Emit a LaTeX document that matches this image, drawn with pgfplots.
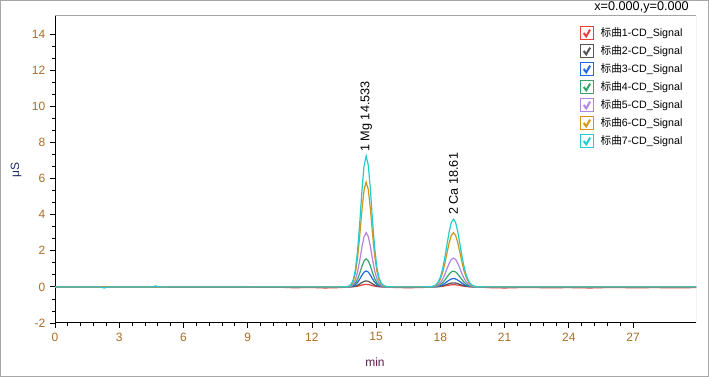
\documentclass[border=0pt]{standalone}
\usepackage{pgfplots}
\pgfplotsset{compat=1.18}
\usepackage{pgfplotstable}
\usepackage{fontspec}
\setmainfont{Liberation Sans}
\newfontfamily\cjk{Noto Sans CJK SC}
\definecolor{c1}{RGB}{232,64,64}
\definecolor{c2}{RGB}{85,85,85}
\definecolor{c3}{RGB}{35,105,225}
\definecolor{c4}{RGB}{55,165,105}
\definecolor{c5}{RGB}{180,130,225}
\definecolor{c6}{RGB}{210,150,20}
\definecolor{c7}{RGB}{35,205,205}
\definecolor{tickc}{RGB}{170,110,40}
\definecolor{ylabc}{RGB}{30,45,100}
\definecolor{xlabc}{RGB}{95,30,80}
\definecolor{framec}{RGB}{165,165,170}

\pgfplotstableread{
x      r      g      b      gr     p      o      c
0      0      0      0      0      0      0      0
2.10   0      0      0      0      0      0      0
2.30   0      0      0      0      0      0      -0.06
2.50   0      0      0      0      0      0      0
4.55   0      0      0      0      0      0      0
4.70   0      0      0      0      0      0      0.05
4.85   0      0      0      0      0      0      0
10.50  -0.02  0      0      0      0      0      0
11.20  -0.05  0      0      0      0      0      0
11.90  -0.03  0      0      0      0      0      0
12.60  -0.06  0      0      0      0      0      0
13.30  -0.04  0      0      0      0      0      0
13.633 0.000  0.000  0.001  0.002  0.005  0.009  0.011
13.733 0.001  0.002  0.005  0.009  0.018  0.035  0.044
13.833 0.003  0.007  0.018  0.031  0.060  0.116  0.145
13.933 0.008  0.018  0.049  0.087  0.168  0.325  0.406
14.033 0.019  0.045  0.119  0.209  0.405  0.783  0.979
14.133 0.039  0.092  0.245  0.431  0.834  1.612  2.016
14.233 0.068  0.161  0.429  0.755  1.461  2.825  3.531
14.333 0.102  0.240  0.639  1.125  2.178  4.211  5.264
14.433 0.129  0.305  0.812  1.431  2.769  5.353  6.692
14.533 0.140  0.330  0.880  1.550  3.000  5.800  7.250
14.633 0.130  0.307  0.818  1.442  2.790  5.394  6.743
14.733 0.104  0.244  0.651  1.147  2.220  4.292  5.365
14.833 0.070  0.165  0.440  0.775  1.500  2.900  3.625
14.933 0.041  0.097  0.260  0.457  0.885  1.711  2.139
15.033 0.021  0.050  0.132  0.233  0.450  0.870  1.088
15.133 0.010  0.023  0.062  0.109  0.210  0.406  0.508
15.233 0.004  0.010  0.026  0.047  0.090  0.174  0.218
15.333 0.002  0.004  0.011  0.019  0.036  0.070  0.087
15.433 0.001  0.002  0.004  0.008  0.015  0.029  0.036
15.533 0.000  0.001  0.002  0.003  0.006  0.012  0.015
15.80  -0.03  0      0      0      0      0      0
16.50  -0.05  0      0      0      0      0      0
17.20  -0.03  0      0      0      0      0      0
17.51  0.000  0.000  0.001  0.002  0.003  0.005  0.007
17.61  0.001  0.001  0.003  0.005  0.009  0.017  0.021
17.71  0.002  0.003  0.007  0.013  0.024  0.045  0.056
17.81  0.004  0.008  0.017  0.031  0.058  0.108  0.135
17.91  0.009  0.017  0.036  0.068  0.125  0.234  0.293
18.01  0.018  0.034  0.071  0.134  0.246  0.462  0.578
18.11  0.033  0.060  0.125  0.237  0.435  0.816  1.020
18.21  0.052  0.096  0.200  0.378  0.696  1.305  1.631
18.31  0.075  0.138  0.288  0.545  1.002  1.878  2.348
18.41  0.097  0.179  0.374  0.706  1.299  2.436  3.045
18.51  0.114  0.209  0.437  0.826  1.518  2.847  3.559
18.61  0.120  0.220  0.460  0.870  1.600  3.000  3.750
18.71  0.114  0.209  0.438  0.828  1.523  2.856  3.570
18.81  0.098  0.180  0.377  0.713  1.312  2.460  3.075
18.91  0.077  0.141  0.294  0.557  1.024  1.920  2.400
19.01  0.054  0.099  0.207  0.392  0.720  1.350  1.688
19.11  0.035  0.064  0.133  0.252  0.464  0.870  1.088
19.21  0.020  0.037  0.078  0.148  0.272  0.510  0.638
19.31  0.011  0.020  0.041  0.078  0.144  0.270  0.338
19.41  0.005  0.010  0.021  0.039  0.072  0.135  0.169
19.51  0.002  0.004  0.009  0.017  0.032  0.060  0.075
19.61  0.001  0.002  0.004  0.007  0.013  0.024  0.030
19.71  0.000  0.001  0.001  0.003  0.005  0.009  0.011
19.81  0.000  0.000  0.000  0.001  0.002  0.003  0.004
20.20  -0.04  0      0      0      0      0      0
21.00  -0.06  0      0      0      0      0      0
22.00  -0.03  0      0      0      0      0      0
23.00  -0.05  0      0      0      0      0      0
24.00  -0.04  0      0      0      0      0      0
25.00  -0.06  0      0      0      0      0      0
26.00  -0.03  0      0      0      0      0      0
27.00  -0.05  0      0      0      0      0      0
28.00  -0.04  0      0      0      0      0      0
29.00  -0.05  0      0      0      0      0      0
29.94  -0.04  0      0      0      0      0      0
}\cdtab

\begin{document}
\begin{tikzpicture}
\fill[white] (0,0) rectangle (531.75pt,282.75pt);
\draw[framec, line width=0.75pt] (0.375pt,0.375pt) rectangle (531.375pt,282.375pt);
\begin{axis}[
  at={(41.25pt,40.5pt)}, anchor=south west,
  scale only axis, width=480.75pt, height=230.25pt,
  xmin=0, xmax=29.94, ymin=-2, ymax=15,
  axis x line*=bottom, axis y line*=left,
  x axis line style={-, black, line width=0.75pt},
  y axis line style={-, black, line width=0.75pt},
  xtick={0,3,...,27}, minor x tick num=4,
  ytick={-2,0,...,14}, minor y tick num=2,
  tick align=outside, major tick length=3.75pt, minor tick length=2.25pt,
  tick style={black, line width=0.6pt},
  /pgf/number format/assume math mode=true,
  ticklabel style={font=\fontsize{9}{10}\selectfont, text=tickc},
  legend style={at={(0.818,0.968)}, anchor=north west, draw=none, fill=none,
    inner sep=0pt, row sep=2.75pt,
    font=\fontsize{8}{9}\selectfont,
    nodes={inner sep=0.5pt, text height=7pt, text depth=2pt},
    /tikz/every odd column/.append style={column sep=4.5pt}},
  legend cell align=left,
  legend image code/.code={
    \draw[#1, line width=0.75pt, fill=white] (0pt,-5pt) rectangle (10pt,5pt);
    \draw[#1, line width=1.5pt] (2.7pt,0.2pt) -- (4.6pt,-2.3pt) -- (7.5pt,2.7pt);
  },
  every axis plot/.append style={line width=0.9pt},
]
\addplot[c1, no marks] table[x=x, y=r] {\cdtab};
\addlegendentry{{\cjk 标曲}1-CD\_Signal}
\addplot[c2, no marks] table[x=x, y=g] {\cdtab};
\addlegendentry{{\cjk 标曲}2-CD\_Signal}
\addplot[c3, no marks] table[x=x, y=b] {\cdtab};
\addlegendentry{{\cjk 标曲}3-CD\_Signal}
\addplot[c4, no marks] table[x=x, y=gr] {\cdtab};
\addlegendentry{{\cjk 标曲}4-CD\_Signal}
\addplot[c5, no marks] table[x=x, y=p] {\cdtab};
\addlegendentry{{\cjk 标曲}5-CD\_Signal}
\addplot[c6, no marks] table[x=x, y=o] {\cdtab};
\addlegendentry{{\cjk 标曲}6-CD\_Signal}
\addplot[c7, no marks] table[x=x, y=c] {\cdtab};
\addlegendentry{{\cjk 标曲}7-CD\_Signal}
\draw[framec, line width=0.75pt] (rel axis cs:0,1) -- (rel axis cs:1,1) -- (rel axis cs:1,0);
\node[rotate=90, anchor=west, inner sep=0pt, font=\fontsize{9.5}{10}\selectfont, xshift=3pt] at (axis cs:14.533,7.25) {1 Mg 14.533};
\node[rotate=90, anchor=west, inner sep=0pt, font=\fontsize{9.5}{10}\selectfont, xshift=3pt] at (axis cs:18.61,3.75) {2 Ca 18.61};
\end{axis}
\node[anchor=east, inner sep=0pt, font=\fontsize{9.5}{10}\selectfont] at (516.75pt,277.5pt) {x=0.000,y=0.000};
\node[rotate=90, inner sep=0pt, text=ylabc, font=\fontsize{9}{10}\selectfont] at (12pt,155.25pt) {μS};
\node[inner sep=0pt, text=xlabc, font=\fontsize{9}{10}\selectfont] at (281.25pt,10.9pt) {min};
\end{tikzpicture}
\end{document}
